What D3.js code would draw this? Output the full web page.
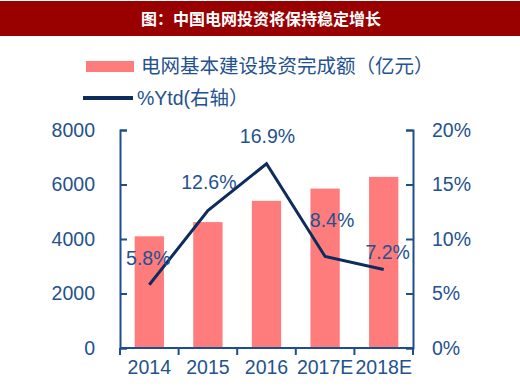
<!DOCTYPE html>
<html>
<head>
<meta charset="utf-8">
<script src="https://cdn.jsdelivr.net/npm/d3@7"></script>
<style>
  body { margin: 0; background: #fff; }
  svg { display: block; font-family: "Liberation Sans", Arial, "Noto Sans CJK SC", sans-serif; }
</style>
</head>
<body>
<svg id="chart" width="520" height="391"></svg>
<script>
const years = ["2014", "2015", "2016", "2017E", "2018E"];
const invest = [4100, 4620, 5400, 5850, 6280];
const ytd = [5.8, 12.6, 16.9, 8.4, 7.2];
const leftTicks = [0, 2000, 4000, 6000, 8000];
const rightTicks = [0, 5, 10, 15, 20];

// label nudges (px from the point), as placed in the original
const labelDy = [-27, -28, -28, -36, -17];
const labelDx = [-1, 1, 1, 7, 4];

const width = 520, height = 391;
const margin = {top: 130, right: 107, bottom: 43, left: 120};
const axisColor = "#1f4e8c";
const textColor = "#24518f";
const fs = 19.5;

const svg = d3.select("#chart");

// title bar
svg.append("rect")
  .attr("x", 0).attr("y", 1)
  .attr("width", width).attr("height", 35)
  .attr("fill", "#990000");
svg.append("text")
  .attr("x", 261).attr("y", 19)
  .attr("dy", "0.35em")
  .attr("text-anchor", "middle")
  .attr("fill", "#fff")
  .attr("font-size", 16)
  .attr("font-weight", "bold")
  .attr("font-family", "'Noto Sans CJK SC', sans-serif")
  .text("图：中国电网投资将保持稳定增长");

// legend
const legend = svg.append("g")
  .attr("font-size", fs)
  .attr("fill", textColor);
legend.append("rect")
  .attr("x", 86).attr("y", 61)
  .attr("width", 48).attr("height", 11)
  .attr("fill", "#ff7c7c");
legend.append("text")
  .attr("x", 141).attr("y", 66)
  .attr("dy", "0.35em")
  .attr("font-family", "'Noto Sans CJK SC', sans-serif")
  .text("电网基本建设投资完成额（亿元）");
legend.append("line")
  .attr("x1", 83).attr("x2", 133)
  .attr("y1", 98).attr("y2", 98)
  .attr("stroke", "#0d2b5c")
  .attr("stroke-width", 4);
const lt = legend.append("text")
  .attr("x", 137).attr("y", 98)
  .attr("dy", "0.35em");
lt.append("tspan").text("%Ytd(");
lt.append("tspan").attr("font-family", "'Noto Sans CJK SC', sans-serif").text("右轴）");

const x = d3.scaleBand()
  .domain(years)
  .range([margin.left, width - margin.right])
  .paddingInner(0.5)
  .paddingOuter(0.25);

const yL = d3.scaleLinear()
  .domain([0, 8000])
  .range([height - margin.bottom, margin.top]);

const yR = d3.scaleLinear()
  .domain([0, 20])
  .range([height - margin.bottom, margin.top]);

// bars
svg.append("g")
  .selectAll("rect")
  .data(invest)
  .join("rect")
  .attr("x", (d, i) => x(years[i]))
  .attr("y", d => yL(d))
  .attr("width", x.bandwidth())
  .attr("height", d => yL(0) - yL(d))
  .attr("fill", "#ff7c7c");

function styleAxis(g) {
  g.select(".domain").attr("stroke", axisColor).attr("stroke-width", 2);
  g.selectAll(".tick line").attr("stroke", axisColor).attr("stroke-width", 2);
  g.selectAll(".tick text").attr("fill", textColor).attr("font-size", fs);
}

// left axis (ticks pointing inward)
svg.append("g")
  .attr("transform", `translate(${margin.left},0)`)
  .call(d3.axisRight(yL).tickValues(leftTicks).tickFormat(d3.format("d")).tickSize(7).tickSizeOuter(7))
  .call(g => {
    styleAxis(g);
    g.selectAll(".tick text")
      .attr("x", -25)
      .attr("text-anchor", "end");
  });

// right axis (ticks pointing inward)
svg.append("g")
  .attr("transform", `translate(${width - margin.right},0)`)
  .call(d3.axisLeft(yR).tickValues(rightTicks).tickFormat(d => d + "%").tickSize(7).tickSizeOuter(7))
  .call(g => {
    styleAxis(g);
    g.selectAll(".tick text")
      .attr("x", 19)
      .attr("text-anchor", "start");
  });

// bottom axis with ticks at band boundaries
const bottom = svg.append("g")
  .attr("transform", `translate(0,${height - margin.bottom})`);
bottom.append("line")
  .attr("x1", margin.left).attr("x2", width - margin.right)
  .attr("stroke", axisColor).attr("stroke-width", 2);
const step = x.step();
const bounds = d3.range(years.length + 1).map(i => margin.left + i * step);
bottom.selectAll(".bt")
  .data(bounds)
  .join("line")
  .attr("x1", d => d).attr("x2", d => d)
  .attr("y1", 0).attr("y2", 7)
  .attr("stroke", axisColor).attr("stroke-width", 2);
bottom.selectAll(".bl")
  .data(years)
  .join("text")
  .attr("x", d => x(d) + x.bandwidth() / 2)
  .attr("y", 19)
  .attr("dy", "0.35em")
  .attr("text-anchor", "middle")
  .attr("font-size", fs)
  .attr("fill", textColor)
  .text(d => d);

// line
const cx = (d, i) => x(years[i]) + x.bandwidth() / 2;
svg.append("path")
  .datum(ytd)
  .attr("fill", "none")
  .attr("stroke", "#0d2b5c")
  .attr("stroke-width", 3)
  .attr("d", d3.line().x(cx).y(d => yR(d)));

// data labels
svg.append("g")
  .selectAll("text")
  .data(ytd)
  .join("text")
  .attr("x", (d, i) => cx(d, i) + labelDx[i])
  .attr("y", (d, i) => yR(d) + labelDy[i])
  .attr("dy", "0.35em")
  .attr("text-anchor", "middle")
  .attr("font-size", fs)
  .attr("fill", textColor)
  .text(d => d.toFixed(1) + "%");
</script>
</body>
</html>
